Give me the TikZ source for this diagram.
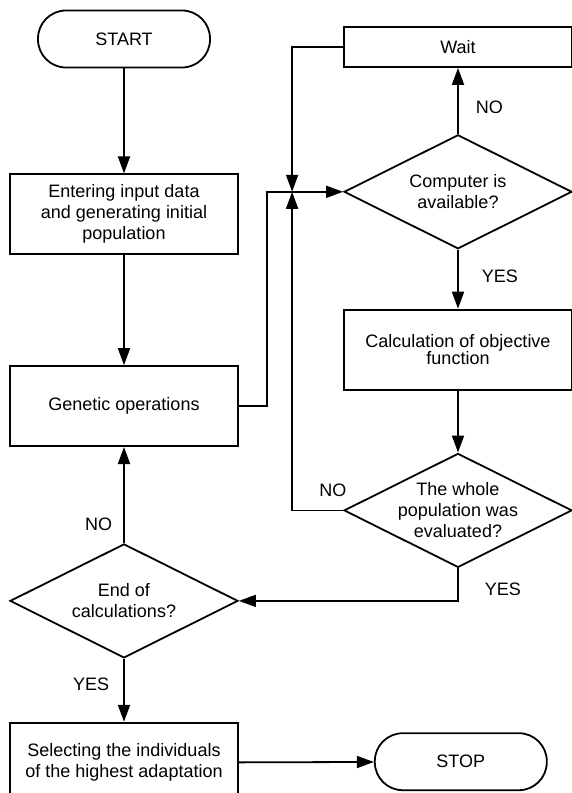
\documentclass[tikz,border=0pt]{standalone}
\usepackage{fontspec}
\setmainfont{Liberation Sans}
\usetikzlibrary{arrows.meta, positioning, shapes.geometric}

\begin{document}
\begin{tikzpicture}[
    x=1pt, y=1pt,
    font=\fontsize{18}{21}\selectfont,
    box/.style={draw, line width=1.8pt, minimum width=228pt, minimum height=80pt, align=center, inner sep=0pt},
    term/.style={draw, line width=1.8pt, rounded corners=28pt, minimum width=172pt, minimum height=57pt, inner sep=0pt},
    decision/.style={draw, diamond, aspect=2, line width=1.8pt, minimum width=228pt, minimum height=114pt, align=center, inner sep=-10pt},
    arrow/.style={-{Triangle[length=17pt, width=12pt]}, line width=1.8pt},
    answer/.style={inner sep=3pt}
]
    \useasboundingbox (0,0) rectangle (572,-793);

    % left column
    \node[term] (start) at (124,-39) {START};
    \node[box, below=105pt of start] (input) {Entering input data\\and generating initial\\population};
    \node[box, below=110pt of input] (genetic) {Genetic operations};
    \node[decision, below=96pt of genetic] (endc) {End of\\calculations?};
    \node[box, below=63pt of endc] (select) {Selecting the individuals\\of the highest adaptation};
    \node[term, right=135pt of select, yshift=1pt] (stop) {STOP};

    % right column
    \node[box, minimum height=40pt] (wait) at (458,-47) {Wait};
    \node[decision, below=66pt of wait] (avail) {Computer is\\available?};
    \node[box, below=59pt of avail] (calc) {Calculation of objective\\[-4pt]function};
    \node[decision, below=62pt of calc] (whole) {The whole\\population was\\evaluated?};
    \coordinate[left=51pt of avail.west] (join);

    \draw[arrow] (start) -- (input);
    \draw[arrow] (input) -- (genetic);
    \draw[arrow] (genetic.east) -- ++(28,0) |- (avail.west);
    \draw[arrow] (avail) -- node[answer, pos=0.4, right=14pt] {NO} (wait);
    \draw[arrow] (wait.west) -| (join);
    \draw[arrow] (whole.west) -| node[answer, pos=0.1, above=10pt] {NO} (join);
    \draw[arrow] (avail) -- node[answer, pos=0.45, right=20pt] {YES} (calc);
    \draw[arrow] (calc) -- (whole);
    \draw[arrow] (whole.south) |- node[answer, pos=0.32, right=23pt] {YES} (endc.east);
    \draw[arrow] (endc) -- node[answer, pos=0.2, left=8pt] {NO} (genetic);
    \draw[arrow] (endc) -- node[answer, pos=0.4, left=11pt] {YES} (select);
    \draw[arrow] (select) -- (stop);
\end{tikzpicture}
\end{document}
